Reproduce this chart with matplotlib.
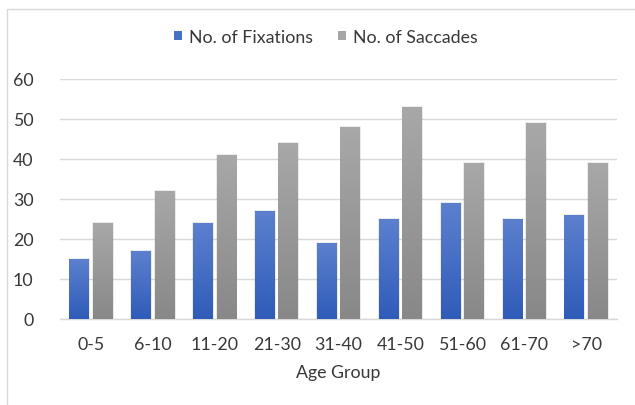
import numpy as np
import matplotlib
matplotlib.use("Agg")
import matplotlib.pyplot as plt
from matplotlib.patches import Rectangle
from matplotlib.colors import LinearSegmentedColormap

age_groups = ["0-5", "6-10", "11-20", "21-30", "31-40", "41-50", "51-60", "61-70", ">70"]
fixations = [15, 17, 24, 27, 19, 25, 29, 25, 26]
saccades = [24, 32, 41, 44, 48, 53, 39, 49, 39]
y_ticks = [0, 10, 20, 30, 40, 50, 60]

plt.rcParams["font.family"] = ["Lato", "DejaVu Sans"]
text_color = "#383838"
fs = 12.8

fig = plt.figure(figsize=(6.35, 4.06), dpi=100)
fig.patch.set_facecolor("white")

# light frame around the chart area
fig.add_artist(Rectangle((7 / 635, -0.1), 1.0, (406 - 10) / 406 + 0.1,
                         transform=fig.transFigure, fill=False,
                         edgecolor="#D9D9D9", linewidth=1.0))

ax = fig.add_axes([60 / 635, 86 / 406, 557 / 635, 240 / 406])

x = np.arange(len(age_groups))
w = 0.32
gap = 0.06

blue_cmap = LinearSegmentedColormap.from_list("blue_grad", ["#2F5CB9", "#5C80CE"])
gray_cmap = LinearSegmentedColormap.from_list("gray_grad", ["#888888", "#A8A8A8"])

bars_fix = ax.bar(x - (w + gap) / 2, fixations, width=w, color="none", edgecolor="none", zorder=3)
bars_sac = ax.bar(x + (w + gap) / 2, saccades, width=w, color="none", edgecolor="none", zorder=3)

grad = np.linspace(0, 1, 256).reshape(-1, 1)
for bars, cmap in ((bars_fix, blue_cmap), (bars_sac, gray_cmap)):
    for b in bars:
        x0 = b.get_x()
        x1 = x0 + b.get_width()
        h = b.get_height()
        # soft shadow behind each bar
        ax.add_patch(Rectangle((x0 - 0.012, 0), x1 - x0 + 0.03, h + 0.25,
                               facecolor="#000000", alpha=0.08, edgecolor="none", zorder=2))
        ax.imshow(grad, extent=[x0, x1, 0, h], origin="lower", aspect="auto",
                  cmap=cmap, zorder=3, interpolation="bilinear")

ax.set_xlim(-0.5, len(age_groups) - 0.5)
ax.set_ylim(0, 60)
ax.set_yticks(y_ticks)
ax.set_xticks(x)
ax.set_xticklabels(age_groups)

for s in ["top", "right", "left"]:
    ax.spines[s].set_visible(False)
ax.spines["bottom"].set_color("#D9D9D9")
ax.spines["bottom"].set_linewidth(1.0)
ax.yaxis.grid(True, color="#D9D9D9", linewidth=1.0, zorder=0)
ax.set_axisbelow(True)
ax.tick_params(axis="both", length=0, labelsize=fs, labelcolor=text_color)
ax.tick_params(axis="y", pad=19)
ax.tick_params(axis="x", pad=12)

ax.set_xlabel("Age Group", fontsize=fs, color=text_color, labelpad=9)

handles = [Rectangle((0, 0), 1, 1, facecolor="#4472C4"),
           Rectangle((0, 0), 1, 1, facecolor="#A5A5A5")]
fig.legend(handles, ["No. of Fixations", "No. of Saccades"],
           loc="center", bbox_to_anchor=(326 / 635, 1 - 38 / 406), ncol=2,
           frameon=False, fontsize=fs, handlelength=0.45, handleheight=0.45,
           handletextpad=0.4, columnspacing=1.4, labelcolor=text_color)

fig.savefig("out.png", dpi=100, facecolor="white")
